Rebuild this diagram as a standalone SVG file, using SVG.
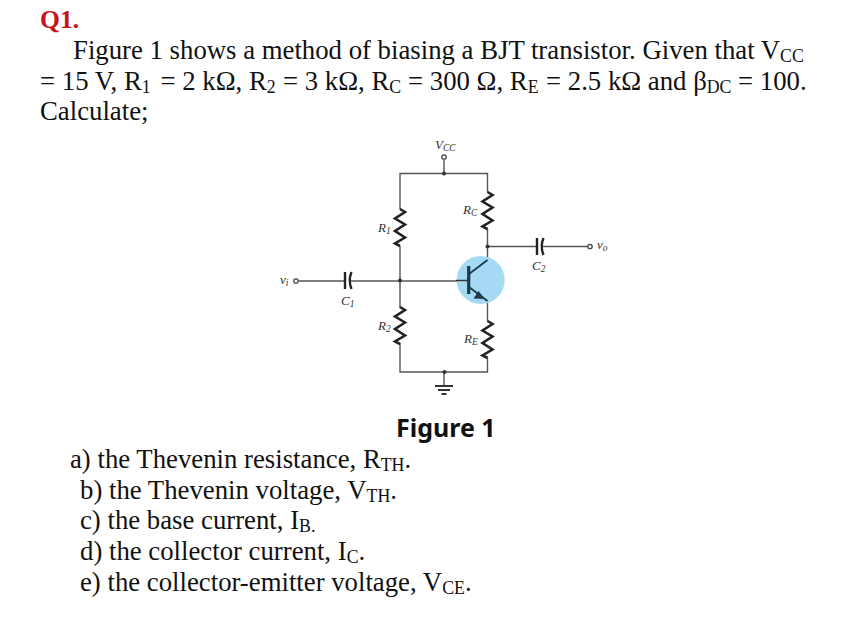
<svg xmlns="http://www.w3.org/2000/svg" width="843" height="632" viewBox="0 0 843 632">
<style>
text{font-family:"Liberation Serif","Times New Roman",serif;fill:#111}
.b{font-size:26.75px}
.s{font-size:17.8px}
.l{font-size:13px;font-style:italic;fill:#333}
.ls{font-size:9.5px;font-style:italic;fill:#333}
.w{fill:none;stroke:#555;stroke-width:1.4}
.r{fill:none;stroke:#222;stroke-width:2.6;stroke-linejoin:miter}
.c{fill:none;stroke:#222;stroke-width:2.4}
.o{fill:#fff;stroke:#444;stroke-width:1.3}
.d{fill:#333}
</style>
<defs>
<path id="res" d="M0 0L5 3L-5 9.500L5 15.500L-5 22L5 28.500L-5 34.500L0 37"/>
</defs>
<rect width="843" height="632" fill="#fff"/>
<g id="text-top">
<text x="40" y="28" font-size="25.6" font-weight="bold" style="fill:#c3161c">Q1.</text>
<text class="b" x="73" y="59">Figure 1 shows a method of biasing a BJT transistor. Given that V<tspan class="s" dy="3">CC</tspan></text>
<text class="b" x="40" y="90">= 15 V, R<tspan class="s" dy="3">1</tspan><tspan x="160.500" dy="-3">= 2 kΩ, R</tspan><tspan class="s" dy="3">2</tspan><tspan x="283" dy="-3">= 3 kΩ, R</tspan><tspan class="s" dy="3">C</tspan><tspan x="408" dy="-3">= 300 Ω, R</tspan><tspan class="s" dy="3">E</tspan><tspan x="546" dy="-3">= 2.5 kΩ and β</tspan><tspan class="s" dy="3">DC</tspan><tspan x="738" dy="-3">= 100.</tspan></text>
<text class="b" x="40" y="120">Calculate;</text>
</g>
<g id="connectors">
<path class="w" d="M444 160V173.500M400 209V173.500H487.500V192M487.500 229V260M400 246V308M400 343V372H487.500V358M487.500 301V321M298.500 281H345M351 281H468M487.500 246.500H537M543 246.500H587.500M444 372V386"/>
</g>
<g id="transistor">
<circle cx="480.700" cy="280" r="24" fill="#a6d9f4"/>
<path d="M469 274L487.500 260M469 287L487.500 301" fill="none" stroke="#1c3a4a" stroke-width="1.800"/>
<path d="M468.700 266V294" stroke="#1c3a4a" stroke-width="3.200"/>
<path d="M468 280.500H456" stroke="#333" stroke-width="1.400"/>
<path d="M485 299L473.500 298.500L478.500 291Z" fill="#1c3a4a"/>
</g>
<g id="R1"><use href="#res" class="r" x="400" y="209"/><text class="l" x="378" y="232">R<tspan class="ls" dy="2">1</tspan></text></g>
<g id="R2"><use href="#res" class="r" x="400" y="307"/><text class="l" x="378" y="330">R<tspan class="ls" dy="2">2</tspan></text></g>
<g id="RC"><use href="#res" class="r" x="487.500" y="192"/><text class="l" x="463" y="214">R<tspan class="ls" dy="2">C</tspan></text></g>
<g id="RE"><use href="#res" class="r" x="487.500" y="321"/><text class="l" x="464" y="343">R<tspan class="ls" dy="2">E</tspan></text></g>
<g id="C1"><path class="c" d="M345 272V289M351.500 272Q348 280.500 351.500 289"/><text class="l" x="341" y="305">C<tspan class="ls" dy="2">1</tspan></text></g>
<g id="C2"><path class="c" d="M537 238V255M543.500 238Q540 246.500 543.500 255"/><text class="l" x="532" y="270">C<tspan class="ls" dy="2">2</tspan></text></g>
<g id="Vcc"><circle class="o" cx="444" cy="157" r="2.200"/><text class="l" x="435" y="149">V<tspan class="ls" dy="2">CC</tspan></text></g>
<g id="vi"><circle class="o" cx="296" cy="281" r="2.200"/><text class="l" x="280" y="284">v<tspan class="ls" dy="2">i</tspan></text></g>
<g id="vo"><circle class="o" cx="590" cy="246.500" r="2.200"/><text class="l" x="597" y="249">v<tspan class="ls" dy="2">o</tspan></text></g>
<g id="ground"><path d="M435 386H453M438 390H450M441.500 394H446.500" stroke="#333" stroke-width="1.800" fill="none"/></g>
<g id="junctions">
<circle class="d" cx="444" cy="173.500" r="2"/><circle class="d" cx="400" cy="280.500" r="2"/><circle class="d" cx="487.500" cy="246.500" r="2"/><circle class="d" cx="444.500" cy="372" r="2"/>
</g>
<g id="text-bottom">
<text x="396" y="437" style="font-family:'Noto Sans','Open Sans',sans-serif;font-weight:700;font-size:25px">Figure 1</text>
<text class="b" x="70" y="468">a) the Thevenin resistance, R<tspan class="s" dy="3">TH</tspan><tspan dy="-3">.</tspan></text>
<text class="b" x="80" y="499">b) the Thevenin voltage, V<tspan class="s" dy="3">TH</tspan><tspan dy="-3">.</tspan></text>
<text class="b" x="80" y="529">c) the base current, I<tspan class="s" dy="3">B.</tspan></text>
<text class="b" x="80" y="560">d) the collector current, I<tspan class="s" dy="3">C</tspan><tspan dy="-3">.</tspan></text>
<text class="b" x="80" y="591">e) the collector-emitter voltage, V<tspan class="s" dy="3">CE</tspan><tspan dy="-3">.</tspan></text>
</g>
</svg>
